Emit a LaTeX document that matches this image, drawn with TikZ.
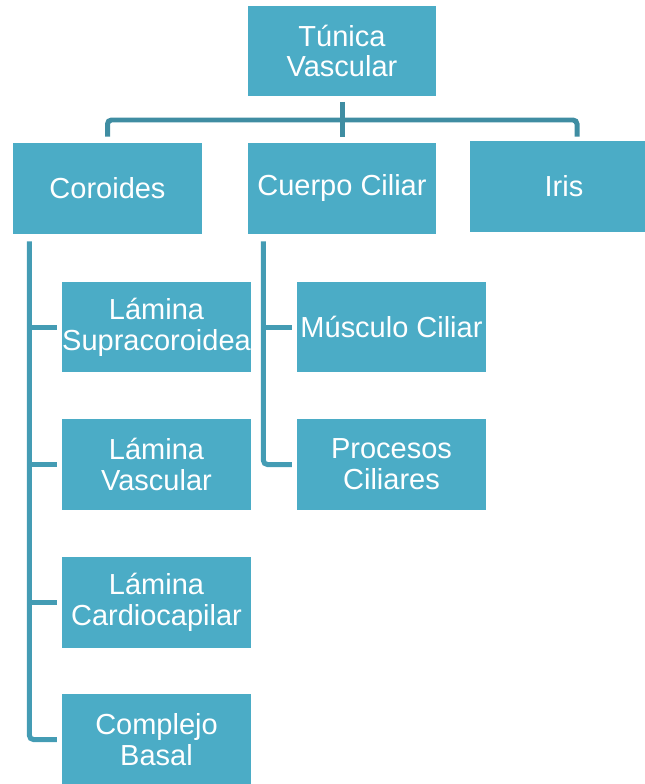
\documentclass[tikz,border=0pt]{standalone}
\usepackage{fontspec}
\setmainfont{Liberation Sans}
\usetikzlibrary{positioning}
\definecolor{boxfill}{HTML}{4BACC6}
\definecolor{topline}{HTML}{3F8DA2}
\definecolor{treeline}{HTML}{449CB4}
\begin{document}
\begin{tikzpicture}[x=0.02cm, y=-0.02cm,
    box/.style={fill=boxfill, text=white, align=center, inner sep=0pt,
        minimum width=3.77cm, minimum height=1.82cm,
        font=\fontsize{16.5}{17.5}\selectfont},
    conn/.style={line width=0.1cm, rounded corners=0.08cm}]
    \useasboundingbox (0,0) rectangle (645,784);
    \clip (0,0) rectangle (645,784);
    \node[box] (tunica) at (342, 51) {Túnica\\Vascular};
    \node[box] (coroides) at (107.5, 188.5) {Coroides};
    \node[box] (cuerpo) at (342, 188.5) {Cuerpo Ciliar};
    \node[box] (iris) at (564, 186.5) {Iris};
    \node[box] (supra) at (156.5, 327) {Lámina\\Supracoroidea};
    \node[box] (lamvasc) at (156.5, 464.5) {Lámina\\Vascular};
    \node[box] (cardio) at (156.5, 602.5) {Lámina\\Cardiocapilar};
    \node[box] (complejo) at (156.5, 739.5) {Complejo\\Basal};
    \node[box] (musculo) at (391.5, 327) {Músculo Ciliar};
    \node[box] (procesos) at (391.5, 464.5) {Procesos\\Ciliares};
    \coordinate (bar) at (342, 120);
    \draw[conn, topline] ([yshift=-0.1cm]tunica.south) -- ([yshift=0.12cm]cuerpo.north);
    \draw[conn, topline] ([yshift=0.12cm]coroides.north) |- (bar)
        -| ([xshift=0.26cm, yshift=0.08cm]iris.north);
    \coordinate (ctrunk) at ([xshift=0.33cm, yshift=-0.14cm]coroides.south west);
    \coordinate (ktrunk) at ([xshift=0.32cm, yshift=-0.14cm]cuerpo.south west);
    \draw[conn, treeline] (ctrunk) |- ([xshift=-0.1cm]complejo.west);
    \foreach \n in {supra, lamvasc, cardio}
        \draw[conn, treeline] (ctrunk |- \n.west) -- ([xshift=-0.1cm]\n.west);
    \draw[conn, treeline] (ktrunk) |- ([xshift=-0.1cm]procesos.west);
    \draw[conn, treeline] (ktrunk |- musculo.west) -- ([xshift=-0.1cm]musculo.west);
\end{tikzpicture}
\end{document}
